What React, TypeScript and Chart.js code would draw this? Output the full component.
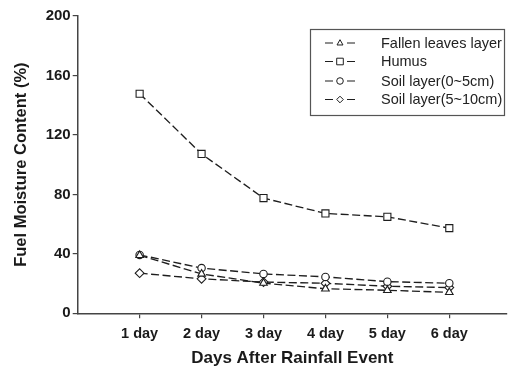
import React, { useEffect, useRef } from "react";
import { Chart, registerables } from "chart.js";

Chart.register(...registerables);

const dayValues = [1, 2, 3, 4, 5, 6];
const dayLabels = ["1 day", "2 day", "3 day", "4 day", "5 day", "6 day"];
const yTicks = [0, 40, 80, 120, 160, 200];

const fallenLeaves = [39, 26.5, 20.3, 16.5, 15.5, 14.1];
const humus = [147.7, 107.2, 77.5, 67.2, 64.9, 57.3];
const soil0to5 = [39.3, 30.4, 26.5, 24.5, 21.3, 20.2];
const soil5to10 = [27, 23.2, 21, 20.2, 18.2, 17.3];

const seriesNames = [
  "Fallen leaves layer",
  "Humus",
  "Soil layer(0~5cm)",
  "Soil layer(5~10cm)",
];
const seriesMarkers = ["triangle", "rect", "circle", "rectRot"];
const seriesRadius = [4.4, 5, 3.7, 4.4];

const INK = "#1e1e1e";
const AXIS = "#444";
const FONT = "'Liberation Sans', Arial, sans-serif";

function drawMarker(ctx: CanvasRenderingContext2D, style: string, x: number, y: number, r: number) {
  ctx.beginPath();
  if (style === "triangle") {
    ctx.moveTo(x, y - r);
    ctx.lineTo(x + r * 0.9, y + r * 0.6);
    ctx.lineTo(x - r * 0.9, y + r * 0.6);
    ctx.closePath();
  } else if (style === "rect") {
    ctx.rect(x - r, y - r, r * 2, r * 2);
  } else if (style === "circle") {
    ctx.arc(x, y, r, 0, Math.PI * 2);
  } else {
    ctx.moveTo(x, y - r);
    ctx.lineTo(x + r, y);
    ctx.lineTo(x, y + r);
    ctx.lineTo(x - r, y);
    ctx.closePath();
  }
  ctx.fillStyle = "#fff";
  ctx.fill();
  ctx.strokeStyle = INK;
  ctx.lineWidth = 1;
  ctx.stroke();
}

const boxLegend = {
  id: "boxLegend",
  afterDraw(chart: any) {
    const ctx: CanvasRenderingContext2D = chart.ctx;
    ctx.save();
    const bx = 310.5, by = 29.5, bw = 194, bh = 86;
    ctx.fillStyle = "#fff";
    ctx.fillRect(bx, by, bw, bh);
    ctx.strokeStyle = "#555";
    ctx.lineWidth = 1.2;
    ctx.strokeRect(bx, by, bw, bh);
    const rows = [43, 61.5, 81, 99.5];
    chart.data.datasets.forEach((ds: any, i: number) => {
      const y = rows[i];
      ctx.strokeStyle = INK;
      ctx.lineWidth = 1.1;
      ctx.setLineDash([]);
      ctx.beginPath();
      ctx.moveTo(325, y);
      ctx.lineTo(333, y);
      ctx.moveTo(347, y);
      ctx.lineTo(355, y);
      ctx.stroke();
      drawMarker(ctx, ds.pointStyle, 340, y, 3.3);
      ctx.fillStyle = "#222";
      ctx.font = `14.5px ${FONT}`;
      ctx.textBaseline = "middle";
      ctx.textAlign = "left";
      ctx.fillText(ds.label, 381, y + 0.5);
    });
    ctx.restore();
  },
};

export default function App() {
  const ref = useRef<HTMLCanvasElement | null>(null);
  useEffect(() => {
    document.body.style.margin = "0";
    const series = [fallenLeaves, humus, soil0to5, soil5to10];
    const chart = new Chart(ref.current as HTMLCanvasElement, {
      type: "line",
      data: {
        datasets: series.map((vals, i) => ({
          label: seriesNames[i],
          data: vals.map((v, j) => ({ x: dayValues[j], y: v })),
          borderColor: INK,
          borderWidth: 1.35,
          borderDash: [8, 3.5],
          pointStyle: seriesMarkers[i] as any,
          pointRadius: seriesRadius[i],
          pointBackgroundColor: "#fff",
          pointBorderColor: INK,
          pointBorderWidth: 1.1,
          fill: false,
          tension: 0,
        })),
      },
      options: {
        animation: false,
        responsive: false,
        maintainAspectRatio: false,
        layout: { padding: { top: 16, right: 0, left: 0, bottom: 0 } },
        plugins: { legend: { display: false }, tooltip: { enabled: false } },
        scales: {
          x: {
            type: "linear",
            min: 0,
            max: 6.93,
            afterBuildTicks: (scale: any) => {
              scale.ticks = dayValues.map((v) => ({ value: v }));
            },
            afterFit: (scale: any) => {
              scale.height = 56.7;
            },
            ticks: {
              autoSkip: false,
              maxRotation: 0,
              padding: 7,
              color: "#1a1a1a",
              font: { family: FONT, size: 14.5, weight: "bold" },
              callback: (v: any) => dayLabels[dayValues.indexOf(Number(v))] ?? "",
            },
            grid: { drawOnChartArea: false, drawTicks: true, tickLength: 5, color: AXIS, lineWidth: 1.2 },
            border: { display: true, color: AXIS, width: 1.5 },
            title: {
              display: true,
              text: "Days After Rainfall Event",
              color: "#1a1a1a",
              font: { family: FONT, size: 17, weight: "bold" },
              padding: { top: 0, bottom: 1.3 },
            },
          },
          y: {
            min: 0,
            max: 200,
            afterBuildTicks: (scale: any) => {
              scale.ticks = yTicks.map((v) => ({ value: v }));
            },
            afterFit: (scale: any) => {
              scale.width = 77.7;
            },
            ticks: {
              padding: 2,
              color: "#1a1a1a",
              font: { family: FONT, size: 15, weight: "bold" },
            },
            grid: { drawOnChartArea: false, drawTicks: true, tickLength: 5, color: AXIS, lineWidth: 1.2 },
            border: { display: true, color: AXIS, width: 1.5 },
            title: {
              display: true,
              text: "Fuel Moisture Content (%)",
              color: "#1a1a1a",
              font: { family: FONT, size: 16.5, weight: "bold" },
              padding: { top: 12, bottom: 0 },
            },
          },
        },
      },
      plugins: [boxLegend],
    });
    return () => chart.destroy();
  }, []);
  return (
    <div style={{ position: "absolute", left: 0, top: 0, width: 513, height: 370 }}>
      <canvas ref={ref} width={513} height={370} style={{ width: 513, height: 370, display: "block" }} />
    </div>
  );
}
